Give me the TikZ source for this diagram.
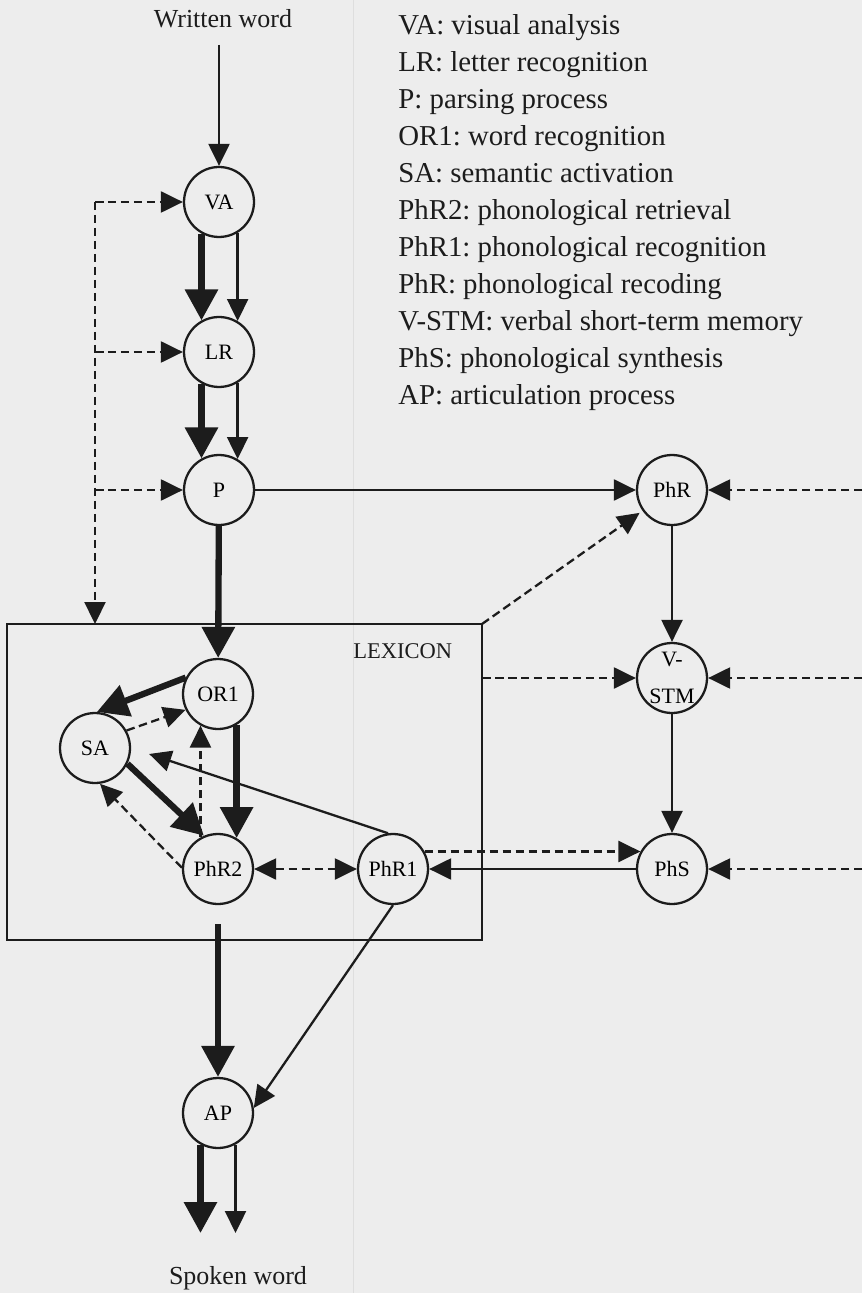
\documentclass[tikz,border=0pt]{standalone}
\usepackage{fontspec}
\setmainfont{Liberation Serif}
\usetikzlibrary{arrows.meta,calc}
\definecolor{paper}{RGB}{237,237,237}
\definecolor{ink}{RGB}{28,28,28}
\tikzset{
  proc/.style = {shape=circle, draw=ink, line width=1.3pt,
                 minimum size=1.4cm, inner sep=0pt, align=center,
                 font=\fontsize{12.5}{21}\selectfont},
  smalltip/.tip = {Triangle[length=0.44cm,width=0.42cm]},
  bigtip/.tip   = {Triangle[length=0.62cm,width=0.64cm]},
  route/.style     = {draw=ink, line width=1.3pt, -smalltip},
  mainroute/.style = {draw=ink, line width=3.6pt, -bigtip},
  feedback/.style  = {route, dash pattern=on 0.17cm off 0.09cm},
  twoway/.style    = {feedback, smalltip-smalltip},
  wordlabel/.style = {font=\fontsize{14.8}{17}\selectfont, text=ink, anchor=base},
  legendline/.style = {font=\fontsize{16.4}{21}\selectfont\frenchspacing, text=ink,
                       anchor=base west, inner sep=0pt},
  lexbox/.style = {draw=ink, line width=1.3pt}
}

\begin{document}
\begin{tikzpicture}[x=0.02cm, y=-0.02cm]
  \useasboundingbox (0,0) rectangle (862,1293);
  \fill[paper] (0,0) rectangle (862,1293);
  \draw[black!13, line width=0.5pt] (353,0) -- (353,1293);

  % legend
  \foreach \txt [count=\i from 0] in {VA: visual analysis, LR: letter recognition,
      P: parsing process, OR1: word recognition, SA: semantic activation,
      PhR2: phonological retrieval, PhR1: phonological recognition,
      PhR: phonological recoding, V-STM: verbal short-term memory,
      PhS: phonological synthesis, AP: articulation process}
    \node[legendline] (leg\i) at (398,35+37*\i) {\txt};

  \node[wordlabel] (written) at (223,28) {Written word};
  \node[wordlabel] (spoken) at (238,1284) {Spoken word};

  % reading route
  \node[proc] (VA) at (219,202) {VA};
  \node[proc] (LR) at (219,352) {LR};
  \node[proc] (P) at (219,490) {P};
  \node[proc] (OR1) at (218,694) {OR1};
  \node[proc] (SA) at (95,748) {SA};
  \node[proc] (PhR2) at (218,869) {PhR2};
  \node[proc] (PhR1) at (393,869) {PhR1};
  \node[proc] (AP) at (218,1113) {AP};
  % phonological loop
  \node[proc] (PhR) at (672,490) {PhR};
  \node[proc] (VSTM) at (672,678) {V-\\STM};
  \node[proc] (PhS) at (672,869) {PhS};

  \coordinate (lexnw) at (7,624);
  \coordinate (lexne) at (482,624);
  \coordinate (lexse) at (482,940);
  \draw[lexbox] (lexnw) rectangle (lexse);
  \node[font=\fontsize{12.8}{15}\selectfont, text=ink, anchor=base west,
        inner sep=0pt] (lexname) at (353,658) {LEXICON};

  \coordinate (wordin) at (219,45);
  \coordinate (fbtop) at (95,202);
  \coordinate (redge) at (862,0);
  \coordinate (outlevel) at (0,1233);

  \draw[route] (wordin) -- (VA);
  \draw[mainroute] (VA.-119) -- (LR.119);
  \draw[route] (VA.-59) -- (LR.59);
  \draw[mainroute] (LR.-119) -- (P.119);
  \draw[route] (LR.-59) -- (P.59);

  \draw[feedback] (fbtop) -- (fbtop |- lexnw);
  \draw[feedback] (fbtop) -- (VA);
  \draw[feedback] (fbtop |- LR) -- (LR);
  \draw[feedback] (fbtop |- P) -- (P);

  \draw[route] (P) -- (PhR);
  \draw[mainroute] (P) -- (OR1);
  \draw[feedback, shorten >=2pt] (lexne) -- (PhR);
  \draw[feedback] (lexne |- VSTM) -- (VSTM);
  \draw[route] (PhR) -- (VSTM);
  \draw[route] (VSTM) -- (PhS);
  \draw[feedback] (PhR1.29) -- (PhS.151);
  \draw[route] (PhS) -- (PhR1);
  \draw[feedback] (redge |- PhR) -- (PhR);
  \draw[feedback] (redge |- VSTM) -- (VSTM);
  \draw[feedback] (redge |- PhS) -- (PhS);

  % inside the lexicon
  \draw[mainroute] (OR1.153) -- (SA.87);
  \draw[feedback] (SA.29) -- (OR1.206);
  \draw[mainroute] (SA.-26) -- (PhR2.113);
  \draw[feedback] (PhR2.178) -- (SA.-82);
  \draw[feedback] (PhR2.119) -- (OR1.-119);
  \draw[mainroute] (OR1.-59) -- (PhR2.59);
  \draw[twoway] (PhR2) -- (PhR1);
  \draw[route, shorten >=0.38cm] (PhR1.98) -- (SA.0);

  \draw[mainroute, shorten <=0.38cm] (PhR2) -- (AP);
  \draw[route] (PhR1.south) -- (AP.8);
  \draw[mainroute] (AP.-119) -- (AP.-119 |- outlevel);
  \draw[route] (AP.-61) -- (AP.-61 |- outlevel);
\end{tikzpicture}
\end{document}
